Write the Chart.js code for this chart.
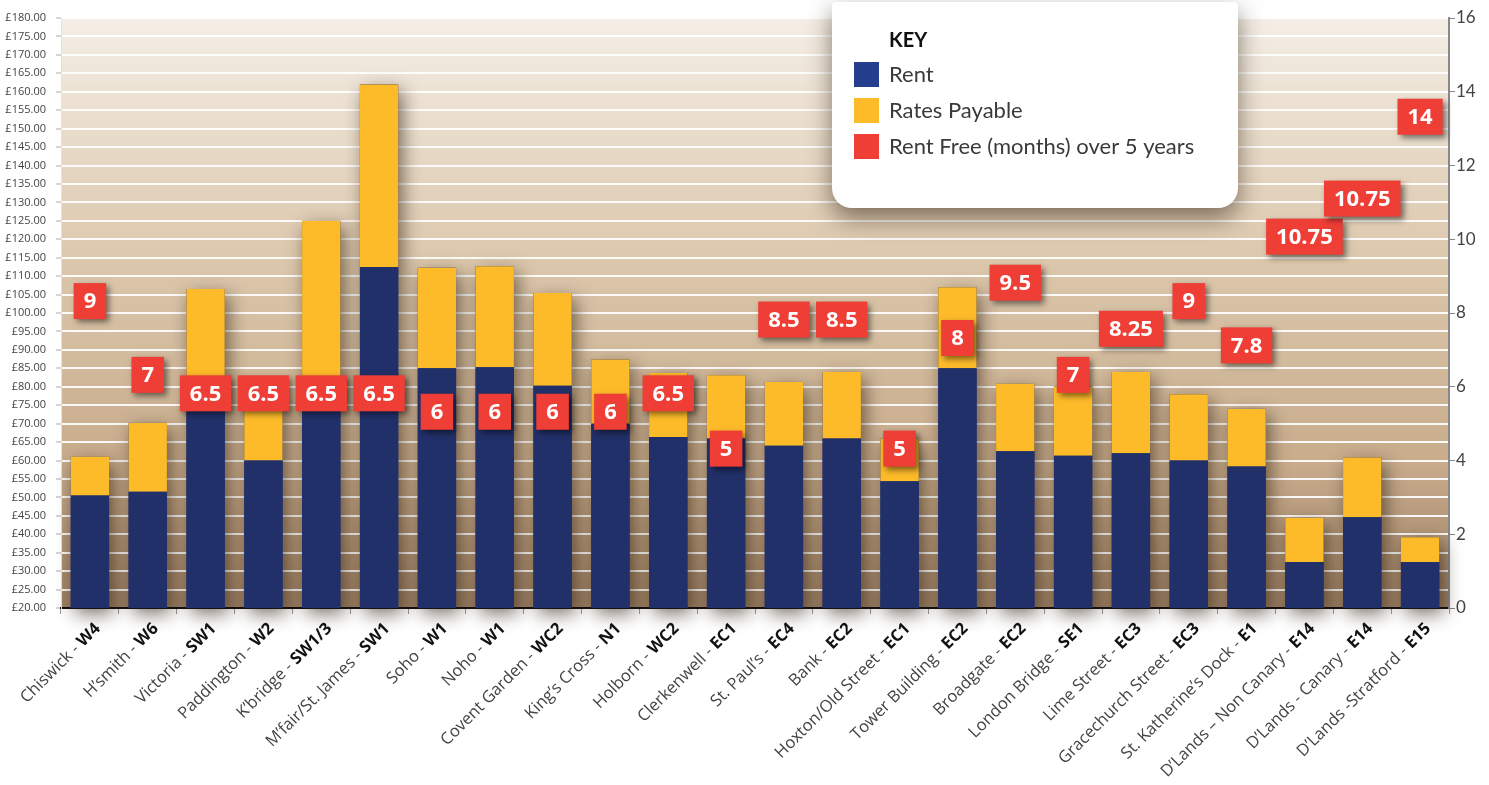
<!DOCTYPE html>
<html>
<head>
<meta charset="utf-8">
<script src="https://cdn.jsdelivr.net/npm/chart.js@4.4.1/dist/chart.umd.min.js"></script>
<style>
  html, body { margin: 0; padding: 0; background: #fff; }
  #wrap { width: 1489px; height: 785px; position: relative; }
</style>
</head>
<body>
<div id="wrap"><canvas id="rentChart"></canvas></div>
<script>
// locations, split so the postcode part can be drawn bold
const areaNames = ['Chiswick', 'H\u2019smith', 'Victoria', 'Paddington', 'K\u2019bridge', 'M\u2019fair/St. James',
    'Soho', 'Noho', 'Covent Garden', 'King\u2019s Cross', 'Holborn', 'Clerkenwell', 'St. Paul\u2019s', 'Bank',
    'Hoxton/Old Street', 'Tower Building', 'Broadgate', 'London Bridge', 'Lime Street', 'Gracechurch Street',
    'St. Katherine\u2019s Dock', 'D\u2019Lands \u2013 Non Canary', 'D\u2019Lands - Canary', 'D\u2019Lands -Stratford'];
const postcodes = ['W4', 'W6', 'SW1', 'W2', 'SW1/3', 'SW1', 'W1', 'W1', 'WC2', 'N1', 'WC2', 'EC1', 'EC4', 'EC2',
    'EC1', 'EC2', 'EC2', 'SE1', 'EC3', 'EC3', 'E1', 'E14', 'E14', 'E15'];

// £ per sq ft
const rent = [50.5, 51.5, 78, 60, 78, 112.5, 85, 85.3, 80.3, 70, 66.4, 66, 64, 66,
    54.4, 85, 62.5, 61.3, 62, 60, 58.4, 32.5, 44.6, 32.5];
const ratesPayable = [10.5, 18.7, 28.5, 17, 47, 49.5, 27.3, 27.4, 25.1, 17.4, 17.3, 17.1, 17.3, 18,
    11.5, 22, 18.3, 18.8, 22, 18, 15.6, 11.9, 16.2, 6.7];

// months, right axis
const rentFreeMonths = [9, 7, 6.5, 6.5, 6.5, 6.5, 6, 6, 6, 6, 6.5, 5, 8.5, 8.5,
    5, 8, 9.5, 7, 8.25, 9, 7.8, 10.75, 10.75, 14];

const navy = '#22306a';
const yellow = '#fdbb2a';
const red = '#ee3e36';

// gradient behind the plot
const bgPlugin = {
    id: 'bg',
    beforeDraw(chart) {
        const { ctx, chartArea: a } = chart;
        const g = ctx.createLinearGradient(0, a.top, 0, a.bottom);
        g.addColorStop(0, '#f4eee6');
        g.addColorStop(0.4, '#dcc8ad');
        g.addColorStop(0.75, '#c8ac8c');
        g.addColorStop(1, '#9c8064');
        ctx.save();
        ctx.fillStyle = g;
        ctx.fillRect(a.left, a.top, a.right - a.left, a.bottom - a.top);
        ctx.restore();
    }
};

// soft shadow behind each stacked column
const barShadow = {
    id: 'barShadow',
    beforeDatasetsDraw(chart) {
        const ctx = chart.ctx;
        const base = chart.getDatasetMeta(0).data;
        const top = chart.getDatasetMeta(1).data;
        ctx.save();
        ctx.shadowColor = 'rgba(40,25,10,0.6)';
        ctx.shadowBlur = 18;
        ctx.shadowOffsetX = 4;
        ctx.shadowOffsetY = 6;
        ctx.fillStyle = navy;
        base.forEach((b, i) => {
            const t = top[i];
            const w = b.width;
            ctx.fillRect(b.x - w / 2, t.y, w, chart.chartArea.bottom - t.y);
        });
        ctx.restore();
    }
};

// red value boxes for rent free months
const rentFreeBoxes = {
    id: 'rentFreeBoxes',
    afterDatasetsDraw(chart) {
        const ctx = chart.ctx;
        const meta = chart.getDatasetMeta(2);
        const h = 36;
        let prev = null;
        ctx.save();
        ctx.font = 'bold 22px "Open Sans"';
        ctx.textAlign = 'center';
        ctx.textBaseline = 'middle';
        meta.data.forEach((p, i) => {
            const txt = String(rentFreeMonths[i]);
            const w = ctx.measureText(txt).width + 20;
            let x0 = p.x - w / 2;
            let y0 = p.y + 7;
            // push up when it would collide with the previous box
            if (prev && x0 < prev.x + prev.w && prev.x < x0 + w && y0 < prev.y + h && prev.y < y0 + h) {
                y0 = prev.y - h - 2;
            }
            ctx.shadowColor = 'rgba(0,0,0,0.5)';
            ctx.shadowBlur = 6;
            ctx.shadowOffsetX = 3;
            ctx.shadowOffsetY = 3;
            ctx.fillStyle = red;
            ctx.fillRect(x0, y0, w, h);
            ctx.shadowColor = 'transparent';
            ctx.fillStyle = '#fff';
            ctx.fillText(txt, x0 + w / 2, y0 + h / 2 + 1);
            prev = { x: x0, y: y0, w: w };
        });
        ctx.restore();
    }
};

// rotated category labels with bold postcodes
const xLabels = {
    id: 'xLabels',
    afterDraw(chart) {
        const ctx = chart.ctx;
        const xs = chart.scales.x;
        const yb = chart.chartArea.bottom;
        ctx.save();
        ctx.textBaseline = 'middle';
        ctx.textAlign = 'right';
        areaNames.forEach((name, i) => {
            const x = xs.getPixelForValue(i);
            ctx.save();
            ctx.translate(x + 8, yb + 18);
            ctx.rotate(-Math.PI / 4);
            ctx.font = 'bold 16.5px "Open Sans"';
            ctx.fillStyle = '#111';
            ctx.fillText(postcodes[i], 0, 0);
            const bw = ctx.measureText(postcodes[i]).width;
            ctx.font = '16.5px "Open Sans"';
            ctx.fillStyle = '#444';
            ctx.fillText(name + ' - ', -bw, 0);
            ctx.restore();
        });
        ctx.restore();
    }
};

// KEY panel
const keyPanel = {
    id: 'keyPanel',
    afterDraw(chart) {
        const ctx = chart.ctx;
        const x = 832, y = 2, w = 406, h = 206;
        ctx.save();
        ctx.shadowColor = 'rgba(40,25,10,0.55)';
        ctx.shadowBlur = 24;
        ctx.shadowOffsetY = 10;
        ctx.fillStyle = '#fff';
        ctx.beginPath();
        ctx.roundRect(x, y, w, h, [4, 4, 20, 20]);
        ctx.fill();
        ctx.shadowColor = 'transparent';

        ctx.textBaseline = 'middle';
        ctx.textAlign = 'left';
        ctx.fillStyle = '#111';
        ctx.font = 'bold 20px Lato';
        ctx.fillText('KEY', 889, 41);

        ctx.font = '22px Lato';
        chart.data.datasets.forEach((ds, i) => {
            const cy = 74 + i * 36;
            ctx.fillStyle = ds.legendColor || ds.backgroundColor;
            ctx.fillRect(854, cy - 12, 25, 25);
            ctx.fillStyle = '#3a3a3a';
            ctx.fillText(ds.label, 889, cy + 1);
        });
        ctx.restore();
    }
};

const labels = areaNames.map((n, i) => n + ' - ' + postcodes[i]);

new Chart(document.getElementById('rentChart'), {
    type: 'bar',
    data: {
        labels: labels,
        datasets: [{
            label: 'Rent',
            data: rent,
            backgroundColor: navy,
            legendColor: '#253e8e',
            stack: 'cost',
            yAxisID: 'y'
        }, {
            label: 'Rates Payable',
            data: ratesPayable,
            backgroundColor: yellow,
            stack: 'cost',
            yAxisID: 'y'
        }, {
            type: 'line',
            label: 'Rent Free (months) over 5 years',
            data: rentFreeMonths,
            backgroundColor: red,
            borderColor: red,
            showLine: false,
            pointRadius: 0,
            yAxisID: 'y1'
        }]
    },
    options: {
        responsive: true,
        maintainAspectRatio: false,
        animation: false,
        categoryPercentage: 1,
        barPercentage: 0.663,
        layout: { padding: { top: 18, left: 0, right: 0, bottom: 0 } },
        plugins: {
            legend: { display: false },
            tooltip: { enabled: false }
        },
        scales: {
            x: {
                stacked: true,
                ticks: { display: false },
                grid: {
                    drawOnChartArea: false,
                    offset: true,
                    tickLength: 6,
                    tickColor: '#9a9a9a'
                },
                border: { color: '#111', width: 2 },
                afterFit(scale) { scale.height = 177; }
            },
            y: {
                stacked: true,
                min: 20,
                max: 180,
                ticks: {
                    stepSize: 5,
                    autoSkip: false,
                    padding: 10,
                    color: '#444',
                    font: { family: 'Open Sans', size: 11 },
                    callback: v => '\u00a3' + Number(v).toFixed(2)
                },
                grid: {
                    color: 'rgba(255,255,255,0.92)',
                    lineWidth: 2,
                    tickLength: 5,
                    tickColor: '#d6d6d6'
                },
                border: { color: '#e2e2e2', width: 1 },
                afterFit(scale) { scale.width = 61; }
            },
            y1: {
                position: 'right',
                min: 0,
                max: 16,
                ticks: {
                    stepSize: 2,
                    padding: 1,
                    color: '#444',
                    font: { family: 'Lato', size: 17 }
                },
                grid: {
                    drawOnChartArea: false,
                    tickLength: 6,
                    tickColor: '#888'
                },
                border: { color: '#888', width: 2 },
                afterFit(scale) { scale.width = 40; }
            }
        }
    },
    plugins: [bgPlugin, barShadow, rentFreeBoxes, xLabels, keyPanel]
});
</script>
</body>
</html>
